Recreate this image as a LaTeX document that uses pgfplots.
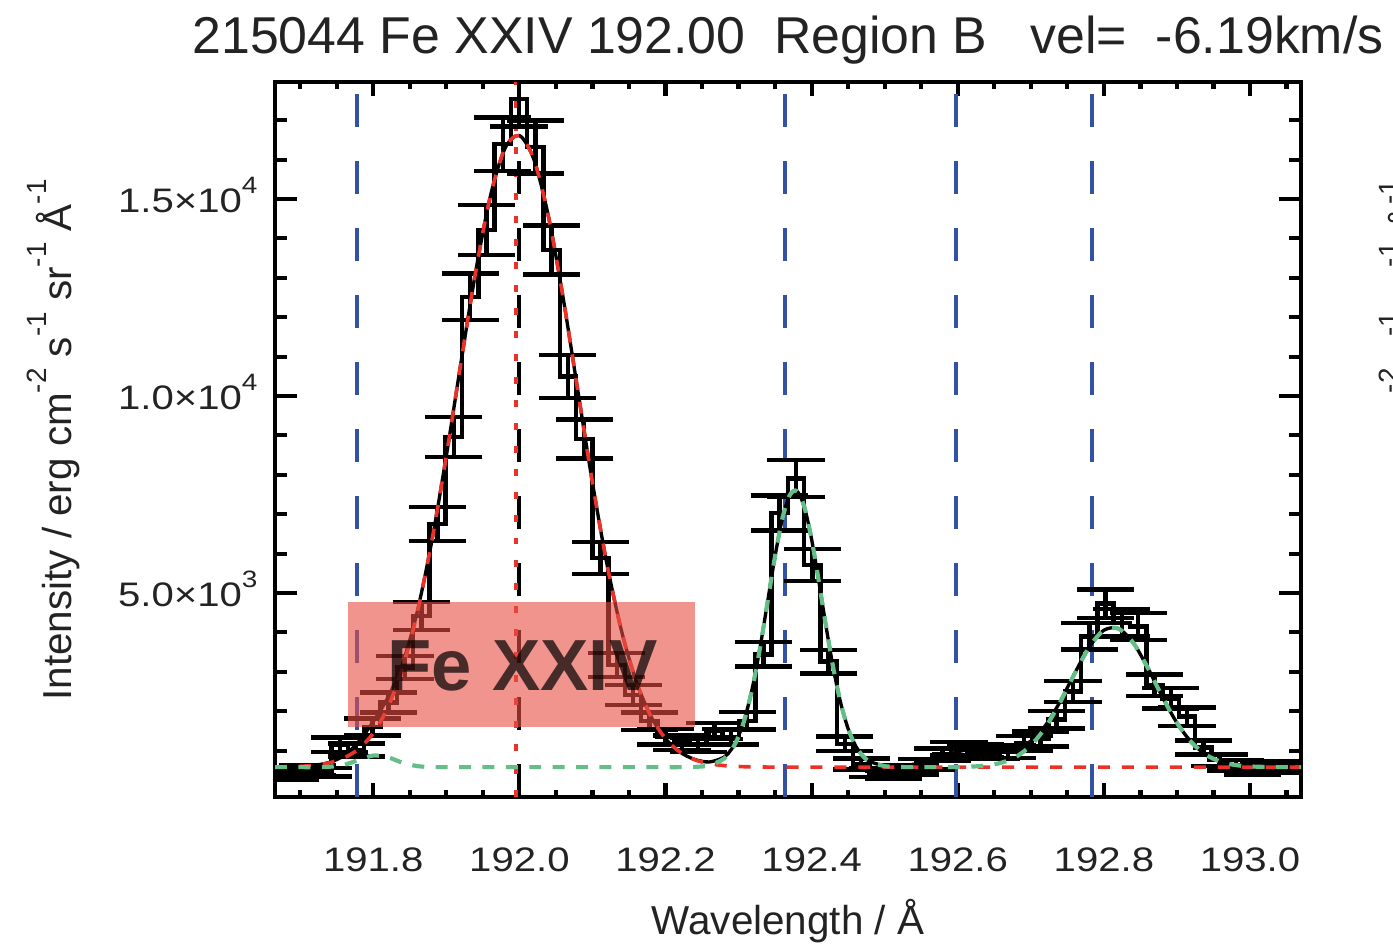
\documentclass[border=0pt]{standalone}
\usepackage{fontspec}
\setmainfont{Liberation Sans}
\newfontfamily\tickfont[FakeStretch=1.18]{Liberation Sans}
\usepackage{pgfplots}
\pgfplotsset{compat=1.18}
\usepackage{pgfplotstable}

\definecolor{lineblue}{RGB}{52,82,165}
\definecolor{fitred}{RGB}{235,50,40}
\definecolor{fitgreen}{RGB}{100,190,135}
\definecolor{boxred}{RGB}{232,77,67}
\definecolor{txt}{RGB}{35,35,35}

% superscripts for tick labels and axis labels
\newcommand{\tsup}[1]{\raisebox{6.8pt}{\fontsize{8.5}{8.5}\tickfont #1}}
\newcommand{\lsup}[1]{\raisebox{9pt}{\fontsize{10}{10}\selectfont #1}}

% observed spectrum: wavelength, intensity, 1-sigma error
\pgfplotstableread{
x y e
191.6650 450 112
191.6873 350 99
191.7096 500 119
191.7319 450 112
191.7542 1150 180
191.7765 1015 169
191.7988 1600 212
191.8211 2221 250
191.8434 3109 296
191.8657 4416 352
191.8880 6751 435
191.9103 8959 502
191.9326 12517 593
191.9549 14213 632
191.9772 16395 679
191.9995 17540 702
192.0218 16319 677
192.0441 13705 620
192.0664 10494 543
192.0887 8908 500
192.1110 5888 407
192.1333 3173 299
192.1556 2411 260
192.1779 1750 222
192.2002 1350 195
192.2225 1200 184
192.2448 1150 180
192.2671 1500 205
192.2894 1350 195
192.3117 1756 222
192.3340 3444 311
192.3563 7035 445
192.3786 7901 471
192.4009 5710 400
192.4232 3256 302
192.4455 1172 181
192.4678 660 136
192.4901 444 112
192.5124 380 103
192.5347 520 121
192.5570 650 135
192.5793 900 159
192.6016 1050 172
192.6239 1000 168
192.6462 950 163
192.6685 980 166
192.6908 1185 182
192.7131 1290 190
192.7354 1784 224
192.7577 2495 265
192.7800 3901 331
192.8023 4728 364
192.8246 4243 345
192.8469 4150 341
192.8692 2657 273
192.8915 2327 256
192.9138 1860 229
192.9361 1079 174
192.9584 760 146
192.9807 630 133
193.0030 520 121
193.0253 560 125
193.0476 600 130
193.0690 560 125
}\obsdata

% fitted profiles: total, Fe XXIV component, other components (all with background)
\pgfplotstableread{
x tot fe oth
191.6655 584 584 580
191.68 588 588 580
191.70 601 601 580
191.72 630 630 580
191.74 701 691 590
191.76 873 814 639
191.78 1225 1043 762
191.80 1738 1444 874
191.82 2349 2098 831
191.84 3202 3089 693
191.86 4511 4484 607
191.88 6308 6305 583
191.90 8480 8480 580
191.92 10846 10846 580
191.94 13139 13139 580
191.96 15050 15050 580
191.98 16275 16275 580
192.00 16609 16609 580
192.02 15994 15994 580
192.04 14535 14535 580
192.06 12477 12477 580
192.08 10130 10130 580
192.10 7798 7798 580
192.12 5716 5716 580
192.14 4022 4022 580
192.16 2751 2751 580
192.18 1870 1870 580
192.20 1302 1302 580
192.22 960 960 580
192.24 775 768 587
192.26 712 668 624
192.28 833 619 794
192.29 1028 605 1003
192.30 1374 596 1358
192.31 1919 590 1909
192.32 2691 586 2685
192.33 3680 584 3676
192.34 4811 582 4809
192.35 5943 580 5943
192.36 6895 580 6895
192.37 7483 580 7483
192.38 7587 580 7587
192.39 7183 580 7183
192.40 6357 580 6357
192.41 5273 580 5273
192.42 4119 580 4119
192.43 3058 580 3058
192.44 2191 580 2191
192.45 1552 580 1552
192.46 1125 580 1125
192.47 863 580 863
192.48 720 580 717
192.50 615 580 606
192.52 614 580 584
192.54 656 580 580
192.56 739 580 580
192.58 853 580 580
192.60 970 580 584
192.62 1042 580 595
192.64 1050 580 624
192.66 1027 580 694
192.68 1059 580 846
192.70 1242 580 1130
192.72 1637 580 1589
192.74 2240 580 2223
192.76 2960 580 2955
192.78 3629 580 3629
192.80 4055 580 4055
192.82 4096 580 4096
192.84 3740 580 3740
192.86 3101 580 3101
192.88 2365 580 2365
192.90 1703 580 1703
192.92 1207 580 1207
192.94 891 580 891
192.96 717 580 717
192.98 633 580 633
193.00 599 580 599
193.02 586 580 586
193.04 581 580 581
193.0698 580 580 580
}\fitdata

\begin{document}
\begin{tikzpicture}
\begin{axis}[
  name=ax,
  scale only axis,
  width=368.27pt, height=256.64pt,
  xmin=191.6655, xmax=193.0698,
  ymin=-178, ymax=17969,
  scaled y ticks=false,
  axis line style={line width=1.5pt, black},
  tick align=inside,
  xtick pos=both, ytick pos=both,
  xtick={191.8,192.0,192.2,192.4,192.6,192.8,193.0},
  xticklabels={191.8,192.0,192.2,192.4,192.6,192.8,193.0},
  minor xtick={191.70,191.75,191.85,191.90,191.95,192.05,192.10,192.15,192.25,192.30,192.35,192.45,192.50,192.55,192.65,192.70,192.75,192.85,192.90,192.95,193.05},
  ytick={5000,10000,15000},
  yticklabels={5.0×10\tsup{3},1.0×10\tsup{4},1.5×10\tsup{4}},
  minor ytick={1000,2000,3000,4000,6000,7000,8000,9000,11000,12000,13000,14000,16000,17000},
  xtick style={line width=1.5pt, black, /pgfplots/major tick length=5pt, /pgfplots/minor tick length=2.5pt},
  ytick style={line width=1.5pt, black, /pgfplots/major tick length=7.9pt, /pgfplots/minor tick length=4.3pt},
  tick label style={font=\fontsize{12.2}{14}\tickfont, text=txt, inner sep=0pt},
  xticklabel style={anchor=base, yshift=-26.9pt},
  yticklabel style={anchor=base east, xshift=-6.1pt, yshift=-4.67pt},
  xlabel={Wavelength / Å},
  xlabel style={at={(rel axis cs:0.5,0)}, anchor=base, yshift=-49.2pt, inner sep=0pt,
    font=\fontsize{14.5}{16}\selectfont, text=txt},
  ylabel={Intensity / erg cm\lsup{-2} s\lsup{-1} sr\lsup{-1} Å\lsup{-1}},
  ylabel style={at={(rel axis cs:-0.1979,0.4993)}, anchor=base, inner sep=0pt,
    font=\fontsize{14.5}{16}\selectfont, text=txt},
  title={215044 Fe XXIV 192.00\ \ Region B\ \ \ vel=\ \ -6.19km/s},
  title style={at={(rel axis cs:0.5,1)}, anchor=base, yshift=4.3pt, inner sep=0pt,
    font=\fontsize{18.6}{21}\selectfont, text=txt},
]

% reference wavelengths of the lines in the window
\addplot[lineblue, line width=1.44pt, dash pattern=on 11.85pt off 12.2pt] coordinates {(191.7773,-178) (191.7773,17969)};
\addplot[lineblue, line width=1.44pt, dash pattern=on 11.85pt off 12.2pt] coordinates {(192.3642,-178) (192.3642,17969)};
\addplot[lineblue, line width=1.44pt, dash pattern=on 11.85pt off 12.2pt] coordinates {(192.5969,-178) (192.5969,17969)};
\addplot[lineblue, line width=1.44pt, dash pattern=on 11.85pt off 12.2pt] coordinates {(192.7838,-178) (192.7838,17969)};
% rest wavelength and fitted centroid of Fe XXIV
\addplot[black, line width=1.44pt, dash pattern=on 11.85pt off 12.2pt] coordinates {(192.000,-178) (192.000,17969)};
\addplot[fitred, line width=1.44pt, dash pattern=on 2.5pt off 5.74pt] coordinates {(191.996,-178) (191.996,17969)};

% observed spectrum with error bars
\addplot[black, line width=1.6pt, const plot mark mid,
  error bars/.cd, y dir=both, y explicit,
  error bar style={line width=1.6pt, black, solid},
  error mark options={black, rotate=90, line width=1.6pt, mark size=10.25pt}]
  table[x=x, y=y, y error=e] {\obsdata};

% fitted profiles
\addplot[black, line width=1.2pt, smooth] table[x=x, y=tot] {\fitdata};
\addplot[fitred, line width=1.3pt, smooth, dash pattern=on 4.3pt off 4.3pt] table[x=x, y=fe] {\fitdata};
\addplot[fitgreen, line width=1.5pt, smooth, dash pattern=on 4.3pt off 4.1pt] table[x=x, y=oth] {\fitdata};

% line label
\fill[boxred, fill opacity=0.6] (axis cs:191.7654,1599) rectangle (axis cs:192.2404,4771);
\node[anchor=base, inner sep=0pt, text=black, text opacity=0.7,
  font=\fontsize{26}{30}\selectfont\bfseries] at (axis cs:192.0043,2538) {Fe XXIV};
\end{axis}

% axis label of the neighbouring panel, cut by the page edge
\path (ax.south west) ++(412.4pt,128.1pt) node[rotate=90, anchor=base, inner sep=0pt,
  font=\fontsize{14.5}{16}\selectfont, text=txt]
  {Intensity / erg cm\lsup{-2} s\lsup{-1} sr\lsup{-1} Å\lsup{-1}};

\pgfresetboundingbox
\path[use as bounding box] (ax.south west) ++(-98.71pt,-53.12pt) rectangle ++(500pt,339.2pt);
\end{tikzpicture}
\end{document}
